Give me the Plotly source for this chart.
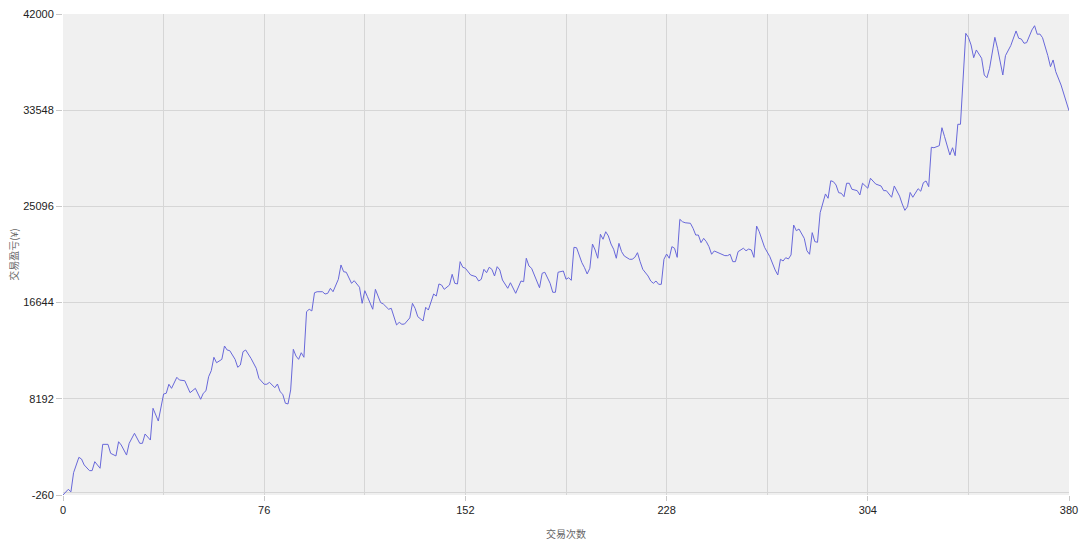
import plotly.graph_objects as go

trade_no = [0, 2, 3, 4, 6, 7, 8, 10, 11, 12,
    14, 15, 17, 18, 20, 21, 22, 24, 25, 27,
    29, 30, 31, 33, 34, 36, 38, 39, 40, 41,
    43, 44, 46, 48, 50, 52, 53, 54, 55, 56,
    57, 58, 60, 61, 62, 63, 65, 66, 67, 68,
    69, 71, 73, 74, 76, 77, 78, 80, 81, 82,
    83, 84, 85, 86, 87, 88, 89, 90, 91, 92,
    93, 94, 95, 96, 98, 99, 100, 101, 102, 104,
    105, 106, 107, 109, 110, 112, 113, 114, 115, 117,
    118, 120, 121, 123, 124, 126, 127, 128, 129, 131,
    132, 133, 134, 136, 137, 138, 140, 141, 142, 143,
    144, 146, 147, 148, 149, 150, 151, 152, 154, 156,
    157, 158, 159, 160, 161, 162, 163, 164, 165, 166,
    168, 169, 171, 173, 174, 175, 176, 177, 180, 181,
    182, 184, 185, 186, 187, 189, 190, 191, 192, 193,
    194, 195, 196, 197, 198, 199, 200, 201, 202, 203,
    204, 205, 206, 207, 208, 209, 210, 211, 212, 214,
    215, 216, 217, 218, 219, 221, 222, 223, 224, 225,
    226, 227, 228, 229, 230, 231, 232, 233, 234, 235,
    237, 238, 239, 240, 241, 242, 243, 244, 245, 246,
    248, 250, 251, 252, 253, 254, 255, 257, 258, 259,
    260, 261, 262, 263, 265, 266, 267, 269, 270, 271,
    272, 273, 274, 275, 276, 277, 278, 280, 281, 282,
    283, 284, 285, 286, 287, 288, 289, 290, 291, 292,
    293, 294, 295, 296, 297, 298, 300, 301, 302, 303,
    304, 305, 307, 309, 310, 311, 313, 314, 316, 317,
    318, 319, 320, 321, 323, 324, 325, 326, 327, 328,
    329, 331, 332, 333, 335, 336, 337, 338, 339, 341,
    342, 343, 344, 345, 347, 348, 349, 350, 352, 353,
    355, 356, 358, 360, 361, 362, 363, 364, 366, 367,
    368, 369, 370, 372, 373, 374, 375, 377, 378, 380]

pnl = [-260, 240, 20, 1700, 3050, 2900, 2380, 1880, 1880, 2670,
    2090, 4190, 4190, 3400, 3170, 4420, 4130, 3250, 4280, 5160,
    4280, 4280, 5100, 4570, 7360, 6240, 8610, 8680, 9470, 9110,
    10080, 9840, 9780, 8730, 9110, 8150, 8680, 8900, 10130, 10660,
    11840, 11360, 11660, 12830, 12480, 12420, 11660, 10960, 11160, 12330,
    12480, 11750, 10870, 9990, 9470, 9470, 9640, 9170, 9490, 8820,
    8590, 7800, 7740, 8970, 12540, 11950, 11660, 12240, 11840, 15850,
    16060, 15910, 17510, 17600, 17600, 17400, 17460, 17900, 17600, 18690,
    19950, 19360, 19310, 18340, 18570, 17990, 16580, 17690, 17160, 16060,
    17810, 16640, 16520, 16060, 16140, 14680, 14910, 14740, 14760, 15300,
    16580, 16140, 15410, 15030, 16230, 15990, 17400, 17220, 18280, 18190,
    17810, 18190, 19130, 18340, 18280, 20240, 19750, 19660, 19070, 18920,
    18540, 18690, 19570, 19270, 19750, 19570, 18980, 19800, 19510, 18630,
    17900, 18390, 17460, 18540, 18480, 20540, 19860, 19660, 17950, 19220,
    19310, 18340, 17550, 17550, 19310, 19420, 18690, 18830, 18600, 21500,
    21460, 20830, 20150, 19710, 19160, 19660, 21790, 21270, 20540, 22650,
    22210, 22870, 22500, 21790, 21330, 20540, 21850, 21120, 20740, 20450,
    20450, 20620, 21030, 20240, 19570, 18980, 18540, 18340, 18540, 18250,
    18250, 20450, 20910, 20540, 21560, 21420, 20620, 23960, 23750, 23660,
    23610, 23170, 22580, 22580, 21910, 22290, 22000, 21560, 20890, 21180,
    20980, 20770, 20770, 20890, 20240, 20240, 21120, 21420, 21200, 21350,
    21270, 20620, 23370, 22870, 21500, 21120, 20680, 19510, 19070, 20450,
    20300, 20590, 20480, 20830, 23460, 22960, 23110, 22290, 21200, 20890,
    22790, 22000, 21940, 24540, 25370, 26190, 25810, 27350, 27270, 26980,
    26300, 26250, 25950, 27130, 27130, 26600, 26480, 26100, 27130, 26890,
    26690, 27570, 27060, 26890, 26480, 26480, 25900, 26890, 26000, 25310,
    24750, 25070, 26320, 25900, 26650, 26430, 27180, 27330, 26830, 30290,
    30250, 30430, 32010, 31220, 29610, 30250, 29550, 32310, 32310, 40300,
    39950, 39280, 38160, 38840, 38110, 36640, 36400, 37230, 39950, 38990,
    36640, 38340, 39220, 40510, 39870, 39800, 39430, 39480, 40600, 40970,
    40220, 40240, 39920, 38340, 37370, 37960, 36930, 35760, 35030, 33500]

y_ticks = [-260, 8192, 16644, 25096, 33548, 42000]
y_tick_labels = ["-260", "8192", "16644", "25096", "33548", "42000"]
x_ticks = [0, 76, 152, 228, 304, 380]
x_tick_labels = ["0", "76", "152", "228", "304", "380"]
x_minor = [38, 114, 190, 266, 342]
x_title = "交易次数"
y_title = "交易盈亏(¥)"

grid = "#D6D6D6"
fig = go.Figure()
fig.add_trace(go.Scatter(
    x=trade_no, y=pnl, mode="lines",
    line=dict(color="#6868DA", width=1),
    hoverinfo="x+y", showlegend=False,
))

fig.update_layout(
    width=1080, height=544,
    margin=dict(l=63, r=11, t=14, b=49),
    paper_bgcolor="white",
    plot_bgcolor="#F0F0F0",
    font=dict(family="Liberation Sans, Arial, sans-serif", size=11, color="#222222"),
)
fig.update_xaxes(
    range=[0, 380], tickmode="array", tickvals=x_ticks, ticktext=x_tick_labels,
    showgrid=True, gridcolor=grid, gridwidth=1,
    minor=dict(tickmode="array", tickvals=x_minor, showgrid=True, gridcolor=grid, ticks=""),
    ticks="outside", ticklen=5, tickcolor="#C8C8C8",
    zeroline=False, showline=False, automargin=False,
    title=dict(text=x_title, standoff=15,
               font=dict(family="Noto Sans CJK SC", size=10, color="#666666")),
)
fig.update_yaxes(
    range=[-260, 42000], tickmode="array", tickvals=y_ticks, ticktext=y_tick_labels,
    showgrid=True, gridcolor=grid, gridwidth=1,
    ticks="outside", ticklen=6, tickcolor="#C8C8C8",
    zeroline=True, zerolinecolor=grid, zerolinewidth=1,
    showline=False, automargin=False,
    title=dict(text=y_title, standoff=2,
               font=dict(family="Noto Sans CJK SC", size=10, color="#666666")),
)

fig.write_html("out.html", config={"displayModeBar": False},
               post_script="document.body.style.margin='0';")
